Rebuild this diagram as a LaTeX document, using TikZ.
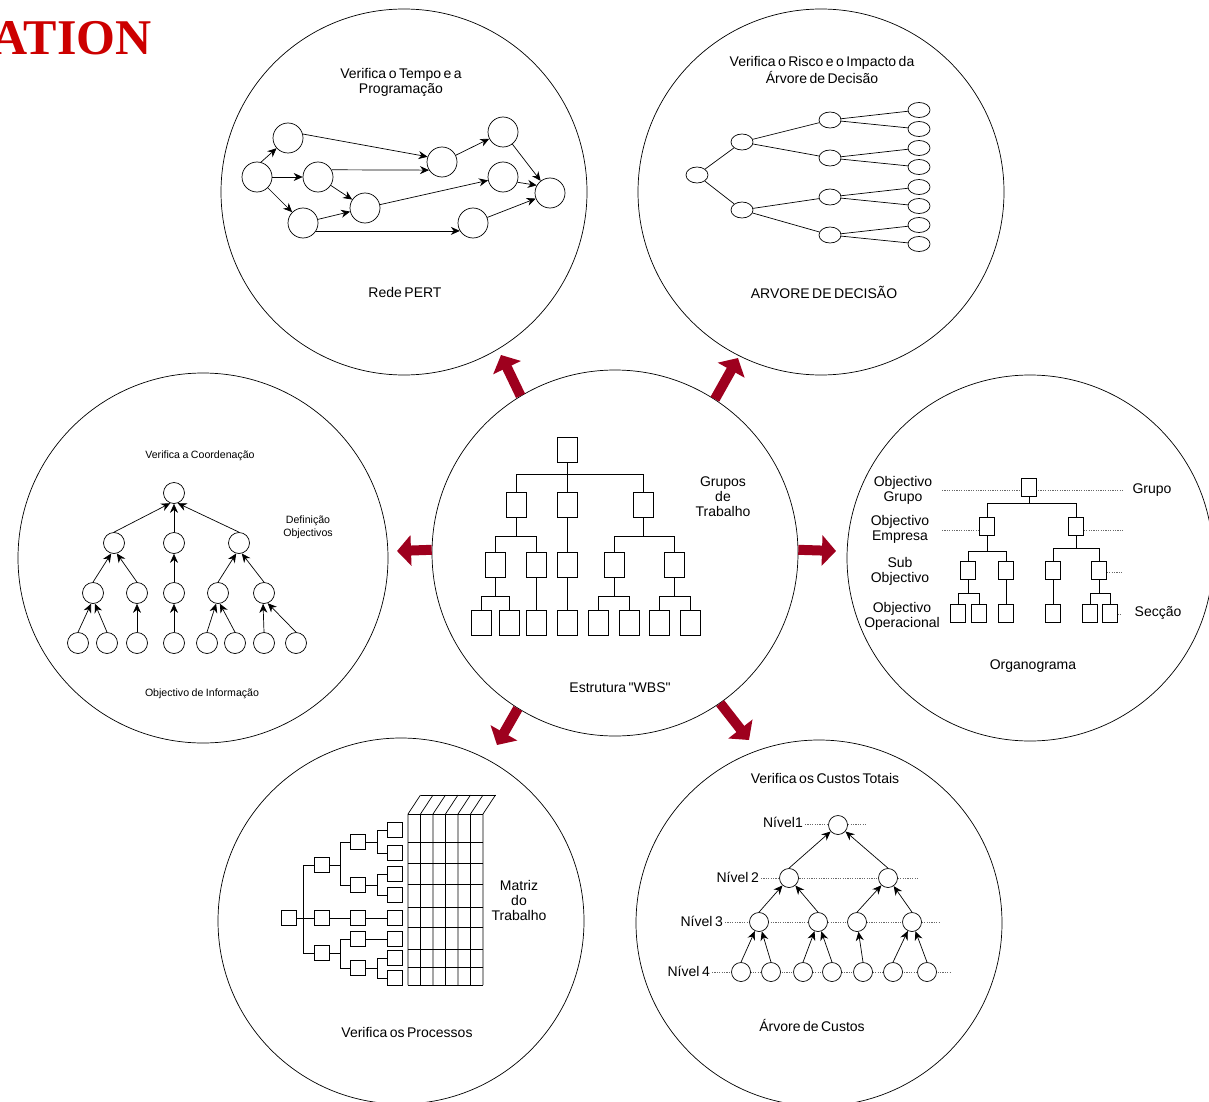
\documentclass[tikz,border=0pt]{standalone}
\usepackage{fontspec}
\setmainfont{Liberation Sans}
\newfontfamily\straightsans{Liberation Sans}[Ligatures=ResetAll]
\newfontfamily\titleserif{Liberation Serif}
\usetikzlibrary{arrows.meta,shapes.geometric}
\definecolor{blockred}{RGB}{158,0,30}
\definecolor{headred}{RGB}{204,0,0}
\definecolor{guide}{RGB}{105,105,105}
\newcommand\narrowspaces{\spaceskip=2.5pt plus 1pt minus 0.5pt\relax}
\newcommand\lblfont{\fontsize{14}{15}\selectfont\narrowspaces}
\newcommand\smlfont{\fontsize{10.6}{13}\selectfont\narrowspaces}
\newcommand\dq{{\straightsans"}}
\begin{document}
\begin{tikzpicture}[x=1pt,y=-1pt,
  every node/.style={inner sep=0pt},
  lbl/.style={font=\lblfont,align=center},
  sml/.style={font=\smlfont,align=center},
  ring/.style={circle,draw,line width=0.7pt,minimum size=366pt},
  ln/.style={line width=0.7pt},
  tip/.style={ln,-{Stealth[length=9pt,width=8pt]}},
  pnode/.style={circle,draw,ln,fill=white,minimum size=30pt},
  dnode/.style={ellipse,draw,ln,fill=white,minimum width=22pt,minimum height=16pt},
  cnode/.style={circle,draw,ln,fill=white,minimum size=21pt},
  knode/.style={circle,draw,ln,fill=white,minimum size=19pt},
  wbox/.style={rectangle,draw,ln,fill=white,minimum width=20pt,minimum height=25pt},
  obox/.style={rectangle,draw,ln,fill=white,minimum width=15pt,minimum height=18pt},
  mbox/.style={rectangle,draw,ln,fill=white,minimum width=15pt,minimum height=15pt},
  guideline/.style={guide,line width=0.6pt,dash pattern=on 1.2pt off 1.2pt},
  block/.style={blockred,line width=10pt,-{Triangle[length=14pt,width=30pt]}},
]
\useasboundingbox (0,0) rectangle (1209,1102);
\clip (0,0) rectangle (1209,1102);

% heading fragment
\node[anchor=base east,font=\titleserif\bfseries\fontsize{50}{50}\selectfont,text=headred] (ttl) at (152,55) {ATION};

% the seven rings
\node[ring] (pert) at (404,192) {};
\node[ring] (dec) at (821,192) {};
\node[ring,minimum size=370pt] (coord) at (203,558) {};
\node[ring] (wbs) at (615,553) {};
\node[ring] (org) at (1030,558) {};
\node[ring] (proc) at (401,921) {};
\node[ring] (cost) at (819,923) {};

% ---------- PERT network ----------
\node[lbl] (pertT) at (401,82) {Verifica o Tempo e a\\Programação};
\node[lbl] (pertB) at (405,292) {Rede PERT};
\node[pnode] (pa) at (257,177) {};
\node[pnode] (pb) at (288,138) {};
\node[pnode] (pc) at (318,177) {};
\node[pnode] (pd) at (303,223) {};
\node[pnode] (pe) at (365,208) {};
\node[pnode] (pf) at (442,162) {};
\node[pnode] (pg) at (503,132) {};
\node[pnode] (ph) at (503,177) {};
\node[pnode] (pi) at (550,193) {};
\node[pnode] (pj) at (473,223) {};
\draw[tip] (pa.75) -- (pb);
\draw[tip] (pa) -- (pc);
\draw[tip] (pa) -- (pd);
\draw[tip] (pb.15) -- (pf.160);
\draw[tip] (pc.28) -- (pf.212);
\draw[tip] (pc) -- (pe);
\draw[tip] (pd) -- (pe);
\draw[tip] (pd.-31) -- (pj.211);
\draw[tip] (pe) -- (ph);
\draw[tip] (pf) -- (pg);
\draw[tip] (pg) -- (pi);
\draw[tip] (ph.-20) -- (pi.150);
\draw[tip] (pj) -- (pi);

% ---------- decision tree ----------
\node[lbl] (decT) at (822,70) {Verifica o Risco e o Impacto da\\Árvore de Decisão};
\node[lbl] (decB) at (824,292) {ARVORE DE DECISÃO};
\node[dnode] (d0) at (697,175) {};
\node[dnode] (d1) at (742,142) {};
\node[dnode] (d2) at (742,210) {};
\node[dnode] (d11) at (830,120) {};
\node[dnode] (d12) at (830,158) {};
\node[dnode] (d21) at (830,197) {};
\node[dnode] (d22) at (830,235) {};
\foreach \n/\y in {1/110,2/129,3/148,4/167,5/187,6/206,7/225,8/244}
  \node[dnode,minimum height=15pt] (dl\n) at (919,\y) {};
\draw[ln] (d0) -- (d1); \draw[ln] (d0) -- (d2);
\draw[ln] (d1) -- (d11); \draw[ln] (d1) -- (d12);
\draw[ln] (d2) -- (d21); \draw[ln] (d2) -- (d22);
\draw[ln] (d11) -- (dl1); \draw[ln] (d11) -- (dl2);
\draw[ln] (d12) -- (dl3); \draw[ln] (d12) -- (dl4);
\draw[ln] (d21) -- (dl5); \draw[ln] (d21) -- (dl6);
\draw[ln] (d22) -- (dl7); \draw[ln] (d22) -- (dl8);

% ---------- coordination tree ----------
\node[sml] (coT) at (200,456) {Verifica a Coordenação};
\node[sml] (coD) at (308,527) {Definição\\Objectivos};
\node[sml] (coB) at (202,694) {Objectivo de Informação};
\node[cnode] (ct) at (174,493) {};
\node[cnode] (ca1) at (114,543) {};
\node[cnode] (ca2) at (174,543) {};
\node[cnode] (ca3) at (239,543) {};
\node[cnode] (cb1) at (93,593) {};
\node[cnode] (cb2) at (137,593) {};
\node[cnode] (cb3) at (174,593) {};
\node[cnode] (cb4) at (218,593) {};
\node[cnode] (cb5) at (264,593) {};
\foreach \n/\x in {1/78,2/107,3/137,4/174,5/207,6/235,7/264,8/296}
  \node[cnode] (cc\n) at (\x,643) {};
\draw[tip] (ca1.north) -- (ct.250);
\draw[tip] (ca2.north) -- (ct.south);
\draw[tip] (ca3.north) -- (ct.290);
\draw[tip] (cb1.north) -- (ca1.255);
\draw[tip] (cb2.north) -- (ca1.285);
\draw[tip] (cb3.north) -- (ca2.south);
\draw[tip] (cb4.north) -- (ca3.255);
\draw[tip] (cb5.north) -- (ca3.285);
\draw[tip] (cc1.north) -- (cb1.260);
\draw[tip] (cc2.north) -- (cb1.280);
\draw[tip] (cc3.north) -- (cb2.south);
\draw[tip] (cc4.north) -- (cb3.south);
\draw[tip] (cc5.north) -- (cb4.260);
\draw[tip] (cc6.north) -- (cb4.280);
\draw[tip] (cc7.north) -- (cb5.265);
\draw[tip] (cc8.north) -- (cb5.290);

% ---------- WBS ----------
\node[lbl] (wbsT) at (723,497) {Grupos\\de\\Trabalho};
\node[lbl] (wbsB) at (620,688) {Estrutura \dq WBS\dq};
\node[wbox] (w0) at (567,450) {};
\node[wbox] (w1) at (516,505) {};
\node[wbox] (w2) at (567,505) {};
\node[wbox] (w3) at (643,505) {};
\node[wbox] (w11) at (495,565) {};
\node[wbox] (w12) at (536,565) {};
\node[wbox] (w21) at (567,565) {};
\node[wbox] (w31) at (614,565) {};
\node[wbox] (w32) at (674,565) {};
\node[wbox] (w111) at (481,623) {};
\node[wbox] (w112) at (509,623) {};
\node[wbox] (w121) at (536,623) {};
\node[wbox] (w211) at (567,623) {};
\node[wbox] (w311) at (598,623) {};
\node[wbox] (w312) at (629,623) {};
\node[wbox] (w321) at (659,623) {};
\node[wbox] (w322) at (690,623) {};
\draw[ln] (w0.south) -- ++(0,11.5) -| (w1.north);
\draw[ln] (w0.south) -- ++(0,11.5) -| (w3.north);
\draw[ln] (w0.south) -- (w2.north);
\draw[ln] (w1.south) -- ++(0,18.5) -| (w11.north);
\draw[ln] (w1.south) -- ++(0,18.5) -| (w12.north);
\draw[ln] (w2.south) -- (w21.north);
\draw[ln] (w3.south) -- ++(0,18.5) -| (w31.north);
\draw[ln] (w3.south) -- ++(0,18.5) -| (w32.north);
\draw[ln] (w11.south) -- ++(0,18.5) -| (w111.north);
\draw[ln] (w11.south) -- ++(0,18.5) -| (w112.north);
\draw[ln] (w12.south) -- (w121.north);
\draw[ln] (w21.south) -- (w211.north);
\draw[ln] (w31.south) -- ++(0,18.5) -| (w311.north);
\draw[ln] (w31.south) -- ++(0,18.5) -| (w312.north);
\draw[ln] (w32.south) -- ++(0,18.5) -| (w321.north);
\draw[ln] (w32.south) -- ++(0,18.5) -| (w322.north);

% ---------- organisation chart ----------
\node[lbl] (ogA) at (903,490) {Objectivo\\Grupo};
\node[lbl] (ogB) at (900,529) {Objectivo\\Empresa};
\node[lbl] (ogC) at (900,571) {Sub\\Objectivo};
\node[lbl] (ogD) at (902,616) {Objectivo\\Operacional};
\node[lbl] (ogE) at (1152,490) {Grupo};
\node[lbl] (ogF) at (1158,613) {Secção};
\node[lbl] (ogG) at (1033,666) {Organograma};
\coordinate (gl1a) at (942,490); \coordinate (gl1b) at (1123,490);
\coordinate (gl2a) at (942,530); \coordinate (gl2b) at (1123,530);
\coordinate (gl3b) at (1122,572);
\coordinate (gl4b) at (1121,614);
\draw[guideline] (gl1a) -- (gl1b);
\node[obox] (o0) at (1029,487) {};
\node[obox] (o1) at (987,526) {};
\node[obox] (o2) at (1076,526) {};
\node[obox] (o11) at (968,570) {};
\node[obox] (o12) at (1006,570) {};
\node[obox] (o21) at (1053,570) {};
\node[obox] (o22) at (1099,570) {};
\node[obox] (o111) at (958,613) {};
\node[obox] (o112) at (979,613) {};
\node[obox] (o121) at (1006,613) {};
\node[obox] (o211) at (1053,613) {};
\node[obox] (o221) at (1090,613) {};
\node[obox] (o222) at (1110,613) {};
\draw[guideline] (gl2a) -- (o1.west |- gl2a);
\draw[guideline] (o2.east |- gl2b) -- (gl2b);
\draw[guideline] (o22.east |- gl3b) -- (gl3b);
\draw[guideline] (o222.east |- gl4b) -- (gl4b);
\draw[ln] (o0.south) -- ++(0,7) -| (o1.north);
\draw[ln] (o0.south) -- ++(0,7) -| (o2.north);
\draw[ln] (o1.south) -- ++(0,16) -| (o11.north);
\draw[ln] (o1.south) -- ++(0,16) -| (o12.north);
\draw[ln] (o2.south) -- ++(0,13) -| (o21.north);
\draw[ln] (o2.south) -- ++(0,13) -| (o22.north);
\draw[ln] (o11.south) -- ++(0,14) -| (o111.north);
\draw[ln] (o11.south) -- ++(0,14) -| (o112.north);
\draw[ln] (o12.south) -- (o121.north);
\draw[ln] (o21.south) -- (o211.north);
\draw[ln] (o22.south) -- ++(0,14) -| (o221.north);
\draw[ln] (o22.south) -- ++(0,14) -| (o222.north);

% ---------- work matrix ----------
\node[lbl] (mxT) at (519,900) {Matriz\\do\\Trabalho};
\node[lbl] (mxB) at (407,1032) {Verifica os Processos};
\foreach \x in {408,420.5,433,445.5,458,470.5,483}
  \draw[ln] (\x,814) -- (\x,985) (\x,814) -- ++(12.5,-19);
\foreach \y in {814,842,863,884,907,927,949,967,985}
  \draw[ln] (408,\y) -- (483,\y);
\draw[ln] (420.5,795) -- (495.5,795);
\node[mbox] (m0) at (289,918) {};
\node[mbox] (m1) at (322,865) {};
\node[mbox] (m2) at (322,918) {};
\node[mbox] (m3) at (322,953) {};
\node[mbox] (m11) at (358,842) {};
\node[mbox] (m12) at (358,885) {};
\node[mbox] (m21) at (358,918) {};
\node[mbox] (m31) at (358,939) {};
\node[mbox] (m32) at (358,968) {};
\node[mbox] (m111) at (395,830) {};
\node[mbox] (m112) at (395,853) {};
\node[mbox] (m121) at (395,874) {};
\node[mbox] (m122) at (395,895) {};
\node[mbox] (m211) at (395,918) {};
\node[mbox] (m311) at (395,939) {};
\node[mbox] (m321) at (395,958) {};
\node[mbox] (m322) at (395,978) {};
\draw[ln] (m0.east) -- ++(6.5,0) |- (m1.west);
\draw[ln] (m0.east) -- ++(6.5,0) |- (m3.west);
\draw[ln] (m0.east) -- (m2.west);
\draw[ln] (m1.east) -- ++(10.5,0) |- (m11.west);
\draw[ln] (m1.east) -- ++(10.5,0) |- (m12.west);
\draw[ln] (m2.east) -- (m21.west);
\draw[ln] (m3.east) -- ++(10.5,0) |- (m31.west);
\draw[ln] (m3.east) -- ++(10.5,0) |- (m32.west);
\draw[ln] (m11.east) -- ++(11.5,0) |- (m111.west);
\draw[ln] (m11.east) -- ++(11.5,0) |- (m112.west);
\draw[ln] (m12.east) -- ++(11.5,0) |- (m121.west);
\draw[ln] (m12.east) -- ++(11.5,0) |- (m122.west);
\draw[ln] (m21.east) -- (m211.west);
\draw[ln] (m31.east) -- (m311.west);
\draw[ln] (m32.east) -- ++(11.5,0) |- (m321.west);
\draw[ln] (m32.east) -- ++(11.5,0) |- (m322.west);

% ---------- cost tree ----------
\node[lbl] (kT) at (825,778) {Verifica os Custos Totais};
\node[lbl] (kB) at (812,1025) {Árvore de Custos};
\node[lbl,anchor=east] (kn1) at (803,822) {Nível1};
\node[lbl,anchor=east] (kn2) at (759,877) {Nível 2};
\node[lbl,anchor=east] (kn3) at (723,921) {Nível 3};
\node[lbl,anchor=east] (kn4) at (710,971) {Nível 4};
\coordinate (kg1) at (866,824);
\coordinate (kg2) at (918,878);
\coordinate (kg3) at (940,922);
\coordinate (kg4) at (950,972);
\draw[guideline] (kn1.east |- kg1) ++(2,0) -- (kg1);
\draw[guideline] (kn2.east |- kg2) ++(2,0) -- (kg2);
\draw[guideline] (kn3.east |- kg3) ++(2,0) -- (kg3);
\draw[guideline] (kn4.east |- kg4) ++(2,0) -- (kg4);
\node[knode] (k1) at (838,825) {};
\node[knode] (k21) at (789,878) {};
\node[knode] (k22) at (888,878) {};
\node[knode] (k31) at (759,922) {};
\node[knode] (k32) at (818,922) {};
\node[knode] (k33) at (857,922) {};
\node[knode] (k34) at (912,922) {};
\foreach \n/\x in {1/741,2/771,3/803,4/832,5/863,6/893,7/927}
  \node[knode] (k4\n) at (\x,972) {};
\draw[tip] (k21.north) -- (k1);
\draw[tip] (k22.north) -- (k1);
\draw[tip] (k31.north) -- (k21);
\draw[tip] (k32.north) -- (k21);
\draw[tip] (k33.north) -- (k22);
\draw[tip] (k34.north) -- (k22);
\draw[tip] (k41.north) -- (k31);
\draw[tip] (k42.north) -- (k31);
\draw[tip] (k43.north) -- (k32);
\draw[tip] (k44.north) -- (k32);
\draw[tip] (k45.north) -- (k33);
\draw[tip] (k46.north) -- (k34);
\draw[tip] (k47.north) -- (k34);

% ---------- block arrows out of the WBS ring ----------
\coordinate (hul) at (501,355);
\coordinate (hur) at (738,358);
\coordinate (hl) at (397,551);
\coordinate (hr) at (836,551);
\coordinate (hdl) at (497,745);
\coordinate (hdr) at (749,740);
\draw[block] (wbs.121) -- (hul);
\draw[block] (wbs.57) -- (hur);
\draw[block] (wbs.179) -- (hl);
\draw[block] (wbs.1) -- (hr);
\draw[block] (wbs.238) -- (hdl);
\draw[block] (wbs.305) -- (hdr);
\end{tikzpicture}
\end{document}
